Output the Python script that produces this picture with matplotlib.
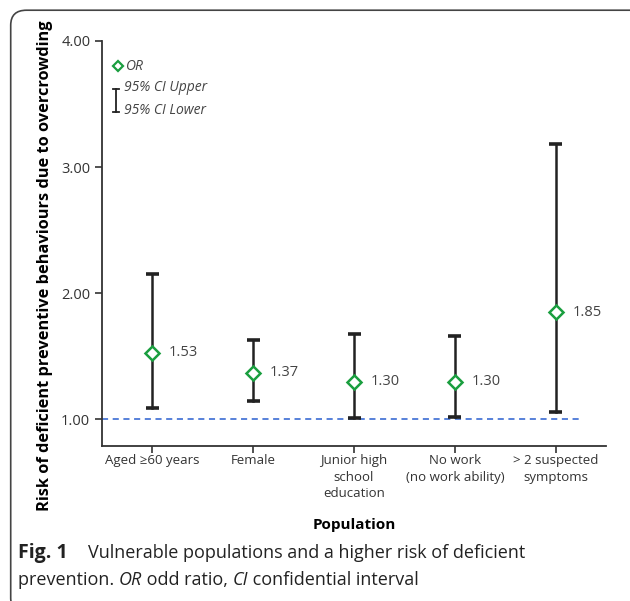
#!/usr/bin/env python3
"""Odds ratios with 95% CI for vulnerable populations."""

import matplotlib.pyplot as plt
from matplotlib.patches import FancyBboxPatch

categories = ["Aged \u226560 years", "Female", "Junior high\nschool\neducation",
              "No work\n(no work ability)", "> 2 suspected\nsymptoms"]
odds_ratio = [1.53, 1.37, 1.30, 1.30, 1.85]
ci_upper = [2.15, 1.63, 1.68, 1.66, 3.18]
ci_lower = [1.09, 1.15, 1.01, 1.02, 1.06]
y_ticks = [1.0, 2.0, 3.0, 4.0]

plt.rcParams["font.family"] = ["Open Sans", "DejaVu Sans"]

fig = plt.figure(figsize=(6.3, 6.01), dpi=100)
ax = fig.add_axes([0.162, 0.258, 0.8, 0.674])

x = list(range(len(categories)))
green = "#1a9e3f"
ink = "#222222"
grey = "#444444"

for xi, orv, up, lo in zip(x, odds_ratio, ci_upper, ci_lower):
    ax.plot([xi, xi], [lo, up], color=ink, lw=1.8, zorder=2)
    for yv in (lo, up):
        ax.plot([xi - 0.065, xi + 0.065], [yv, yv], color=ink, lw=2.6,
                solid_capstyle="butt", zorder=2)
    ax.annotate(f"{orv:.2f}", (xi, orv), xytext=(12, 0), textcoords="offset points",
                ha="left", va="center", fontsize=10.5, color=grey)

ax.plot(x, odds_ratio, linestyle="none", marker="D", markersize=7,
        markerfacecolor="white", markeredgecolor=green, markeredgewidth=1.8, zorder=3)

ax.plot([-0.5, 4.24], [1.0, 1.0], color="#2a5fd0", lw=1.1, dashes=(4, 3), zorder=1)

ax.set_xlim(-0.5, 4.5)
ax.set_ylim(0.79, 4.0)
ax.set_yticks(y_ticks)
ax.set_yticklabels([f"{v:.2f}" for v in y_ticks], fontsize=10.5, color="#333333")
ax.set_xticks(x)
ax.set_xticklabels(categories, fontsize=9.5, color="#333333", linespacing=1.35)
ax.tick_params(axis="both", length=5, width=1.2, color="#333333")
ax.tick_params(axis="x", pad=1)
for side in ("top", "right"):
    ax.spines[side].set_visible(False)
for side in ("left", "bottom"):
    ax.spines[side].set_linewidth(1.3)
    ax.spines[side].set_color("#333333")

ax.set_xlabel("Population", fontsize=11, fontweight="bold", labelpad=13)
ax.set_ylabel("Risk of deficient preventive behaviours due to overcrowding",
              fontsize=11.8, fontweight="bold")
ax.yaxis.set_label_coords(-0.098, 0.444)

# legend drawn by hand in the upper-left corner
ax.plot([-0.34], [3.8], linestyle="none", marker="D", markersize=5,
        markerfacecolor="white", markeredgecolor=green, markeredgewidth=1.6)
ax.text(-0.26, 3.8, "OR", fontsize=10, style="italic", color=grey, va="center")
ax.plot([-0.36, -0.36], [3.44, 3.62], color=ink, lw=1.3)
for yv in (3.44, 3.62):
    ax.plot([-0.39, -0.33], [yv, yv], color=ink, lw=1.3)
ax.text(-0.28, 3.63, "95% CI Upper", fontsize=10, style="italic", color=grey, va="center")
ax.text(-0.28, 3.45, "95% CI Lower", fontsize=10, style="italic", color=grey, va="center")

# caption; second line is chained piece by piece so OR and CI can be italic
cap = dict(fontsize=13, color="#222222", va="baseline")
fig.text(0.029, 0.072, "Fig. 1", fontweight="bold", fontsize=14, color="#222222", va="baseline")
fig.text(0.140, 0.072, "Vulnerable populations and a higher risk of deficient", **cap)
pieces = [("prevention. ", "normal"), ("OR", "italic"), (" odd ratio, ", "normal"),
          ("CI", "italic"), (" confidential interval", "normal")]
renderer = fig.canvas.get_renderer()
inv = fig.transFigure.inverted()
x_pos = 0.029
for part, style in pieces:
    t = fig.text(x_pos, 0.027, part, style=style, **cap)
    x_pos = inv.transform(t.get_window_extent(renderer))[1][0]

frame = FancyBboxPatch((0.017, -0.02), 1.1, 1.003, boxstyle="round,pad=0,rounding_size=0.025",
                       transform=fig.transFigure, fill=False, edgecolor=grey, lw=1.2)
fig.patches.append(frame)

fig.savefig("out.png", dpi=100)
